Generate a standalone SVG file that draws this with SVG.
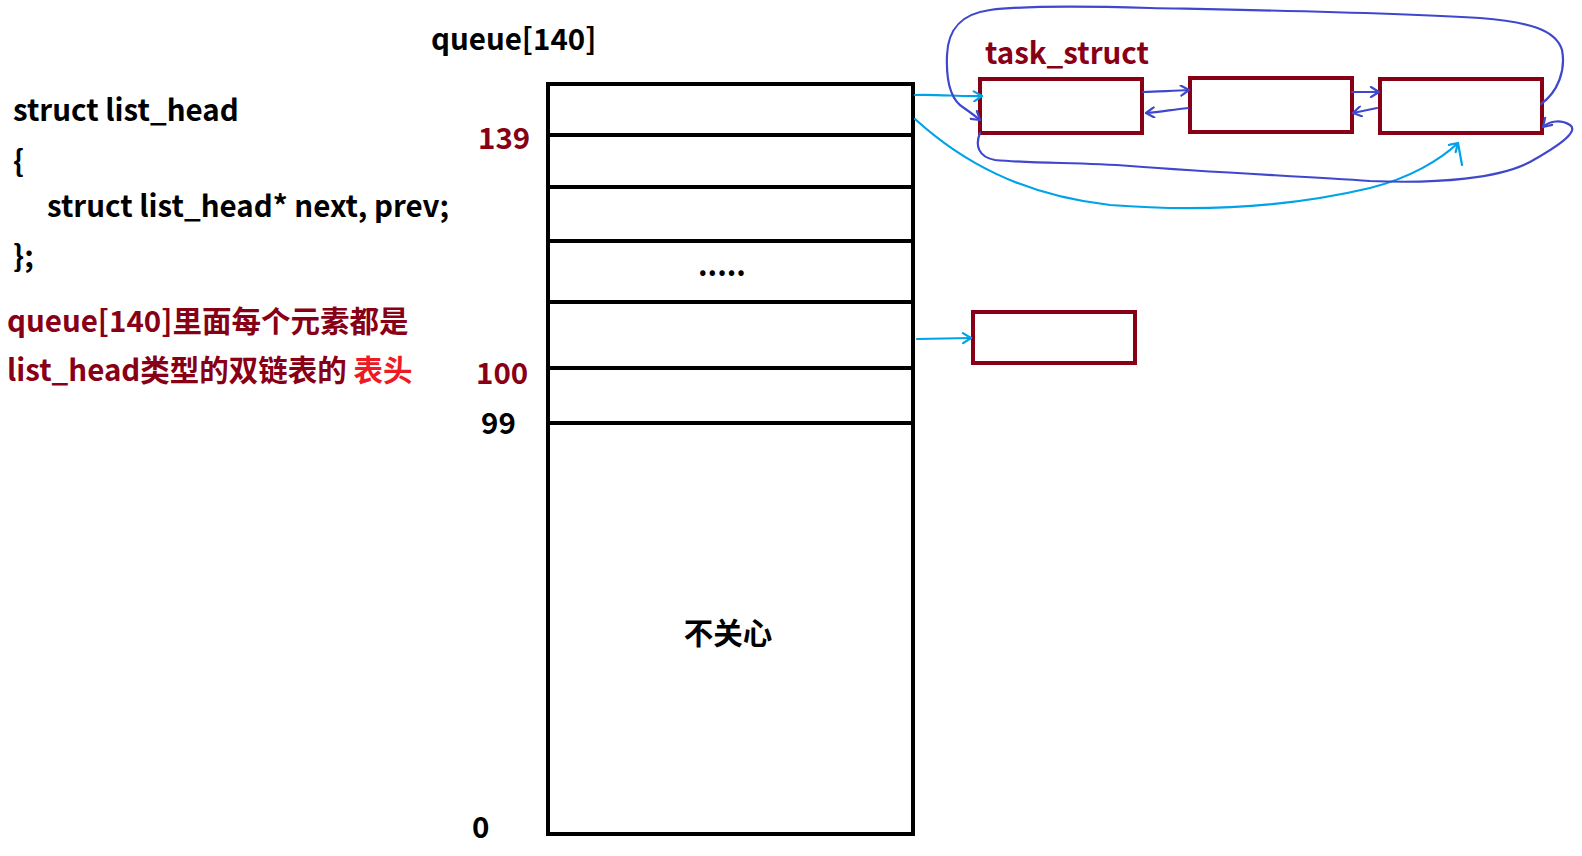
<svg xmlns="http://www.w3.org/2000/svg" width="1582" height="856" viewBox="0 0 1582 856">
<defs>
<style>
text{font-family:"Noto Sans CJK SC","Noto Sans",sans-serif;font-weight:bold;}
.blk{fill:#000;font-size:29.5px;}
.dr{fill:#880015;font-size:29.5px;}
.br{fill:#ED1C24;}
.cell{fill:none;stroke:#000;stroke-width:4;}
.ts{fill:#fff;stroke:#880015;stroke-width:4;}
.cy{fill:none;stroke:#00A2E8;stroke-width:2.2;stroke-linecap:round;stroke-linejoin:round;}
.ind{fill:none;stroke:#3F48CC;stroke-width:2.2;stroke-linecap:round;stroke-linejoin:round;}
</style>
<marker id="ac" viewBox="0 0 12 12" refX="11" refY="6" markerWidth="12" markerHeight="12" markerUnits="userSpaceOnUse" orient="auto"><polyline points="3,1 11,6 3,11" fill="none" stroke="#00A2E8" stroke-width="2.2" stroke-linecap="round" stroke-linejoin="round"/></marker>
<marker id="ai" viewBox="0 0 12 12" refX="11" refY="6" markerWidth="12" markerHeight="12" markerUnits="userSpaceOnUse" orient="auto"><polyline points="3,1 11,6 3,11" fill="none" stroke="#3F48CC" stroke-width="2.2" stroke-linecap="round" stroke-linejoin="round"/></marker>
</defs>
<rect width="1582" height="856" fill="#fff"/>

<g id="code">
<text class="blk" x="13" y="121">struct list_head</text>
<text class="blk" x="13" y="172">{</text>
<text class="blk" x="47" y="217">struct list_head* next, prev;</text>
<text class="blk" x="13" y="267">};</text>
</g>
<g id="note">
<text class="dr" x="7" y="332">queue[140]里面每个元素都是</text>
<text class="dr" x="7" y="381">list_head类型的双链表的 <tspan class="br">表头</tspan></text>
</g>

<g id="queue">
<text class="blk" x="431" y="50">queue[140]</text>
<rect class="cell" x="548" y="84" width="365" height="750"/>
<line class="cell" x1="548" y1="135" x2="913" y2="135"/>
<line class="cell" x1="548" y1="187" x2="913" y2="187"/>
<line class="cell" x1="548" y1="241" x2="913" y2="241"/>
<line class="cell" x1="548" y1="302" x2="913" y2="302"/>
<line class="cell" x1="548" y1="368" x2="913" y2="368"/>
<line class="cell" x1="548" y1="423" x2="913" y2="423" stroke-width="5"/>
<text class="blk" x="722" y="276" text-anchor="middle" font-size="22">.....</text>
<text class="blk" x="728" y="644" text-anchor="middle" font-size="27">不关心</text>
<text class="dr" x="478" y="149">139</text>
<text class="dr" x="476" y="384">100</text>
<text class="blk" x="481" y="434">99</text>
<text class="blk" x="472" y="838">0</text>
</g>

<g id="task_struct">
<text class="dr" x="985" y="64">task_struct</text>
<rect id="ts1" class="ts" x="980" y="79" width="162" height="54"/>
<rect id="ts2" class="ts" x="1190" y="78" width="162" height="54"/>
<rect id="ts3" class="ts" x="1380" y="79" width="162" height="54"/>
</g>
<g id="ts4">
<rect class="ts" x="973" y="312" width="162" height="51"/>
</g>

<g id="connectors">
<path class="cy" d="M915,95 C940,94 960,97 982,96" marker-end="url(#ac)"/>
<path class="cy" d="M915,119 C960,160 1020,195 1110,205 C1200,212 1290,207 1370,188 C1410,178 1440,160 1458,143" marker-end="url(#ac)"/>
<path class="cy" d="M1458,143 L1462,165"/>
<path class="cy" d="M917,339 L971,338" marker-end="url(#ac)"/>
<path class="ind" d="M1143,92 C1160,91 1175,91 1189,90" marker-end="url(#ai)"/>
<path class="ind" d="M1188,108 C1170,110 1160,112 1146,113" marker-end="url(#ai)"/>
<path class="ind" d="M1352,92 L1379,92" marker-end="url(#ai)"/>
<path class="ind" d="M1377,108 L1353,113" marker-end="url(#ai)"/>
<path class="ind" d="M1541,104 C1558,92 1566,70 1562,50 C1556,30 1530,22 1480,18 C1380,12 1250,10 1150,8 C1080,6 1020,6 990,10 C960,14 948,30 947,55 C946,80 950,100 964,108 C970,112 975,116 980,120" marker-end="url(#ai)"/>
<path class="ind" d="M980,133 C975,145 978,157 995,160 C1040,164 1080,162 1130,166 C1220,173 1300,176 1370,181 C1440,184 1500,178 1530,162 C1555,148 1580,132 1570,125 C1562,120 1550,120 1543,127" marker-end="url(#ai)"/>
</g>
</svg>
